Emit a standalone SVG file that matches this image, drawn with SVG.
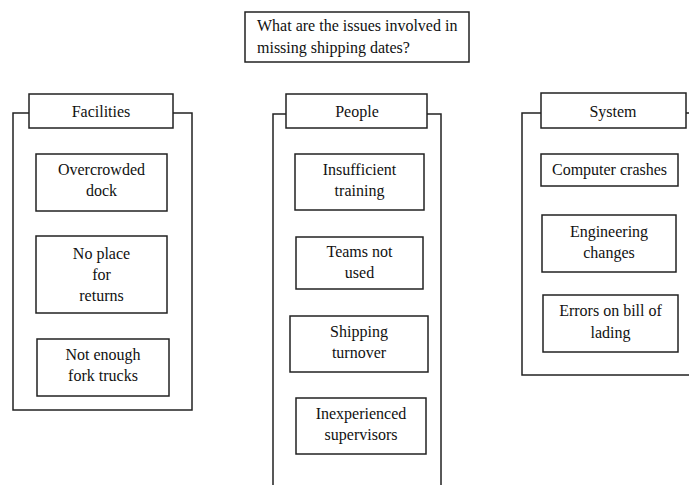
<svg xmlns="http://www.w3.org/2000/svg" width="689" height="485" viewBox="0 0 689 485">
<style>
.frame{fill:none;stroke:#222;stroke-width:1.5}
.box{fill:#fff;stroke:#222;stroke-width:1.5}
text{font-family:"Liberation Serif","Times New Roman",serif;font-size:16px;fill:#111}
.c{text-anchor:middle}
</style>
<rect width="689" height="485" fill="#fff"/>
<g id="connectors">
<rect class="frame" x="13" y="113" width="179" height="297"/>
<rect class="frame" x="273" y="114" width="168" height="400"/>
<rect class="frame" x="522" y="113" width="200" height="262"/>
</g>
<g id="question">
<rect class="box" x="245" y="12" width="224" height="50"/>
<text x="257" y="31">What are the issues involved in</text>
<text x="257" y="53">missing shipping dates?</text>
</g>
<g id="facilities">
<rect class="box" x="29" y="94" width="144" height="34"/>
<text class="c" x="101" y="117">Facilities</text>
</g>
<g id="overcrowded-dock">
<rect class="box" x="36" y="154" width="131" height="57"/>
<text class="c" x="101.5" y="175">Overcrowded</text>
<text class="c" x="101.5" y="196">dock</text>
</g>
<g id="no-place-returns">
<rect class="box" x="36" y="236" width="131" height="77"/>
<text class="c" x="101.5" y="259">No place</text>
<text class="c" x="101.5" y="280">for</text>
<text class="c" x="101.5" y="301">returns</text>
</g>
<g id="fork-trucks">
<rect class="box" x="37" y="339" width="132" height="57"/>
<text class="c" x="103" y="360">Not enough</text>
<text class="c" x="103" y="381">fork trucks</text>
</g>
<g id="people">
<rect class="box" x="286" y="94" width="141" height="34"/>
<text class="c" x="357" y="117">People</text>
</g>
<g id="insufficient-training">
<rect class="box" x="295" y="154" width="129" height="56"/>
<text class="c" x="359.5" y="175">Insufficient</text>
<text class="c" x="359.5" y="196">training</text>
</g>
<g id="teams-not-used">
<rect class="box" x="296" y="237" width="127" height="52"/>
<text class="c" x="359.5" y="257">Teams not</text>
<text class="c" x="359.5" y="278">used</text>
</g>
<g id="shipping-turnover">
<rect class="box" x="290" y="316" width="138" height="56"/>
<text class="c" x="359" y="337">Shipping</text>
<text class="c" x="359" y="358">turnover</text>
</g>
<g id="inexperienced-supervisors">
<rect class="box" x="296" y="398" width="130" height="56"/>
<text class="c" x="361" y="419">Inexperienced</text>
<text class="c" x="361" y="440">supervisors</text>
</g>
<g id="system">
<rect class="box" x="541" y="93" width="145" height="35"/>
<text class="c" x="613" y="117">System</text>
</g>
<g id="computer-crashes">
<rect class="box" x="541" y="154" width="137" height="32"/>
<text class="c" x="609.5" y="175">Computer crashes</text>
</g>
<g id="engineering-changes">
<rect class="box" x="542" y="215" width="134" height="57"/>
<text class="c" x="609" y="237">Engineering</text>
<text class="c" x="609" y="258">changes</text>
</g>
<g id="errors-bill-lading">
<rect class="box" x="543" y="295" width="135" height="57"/>
<text class="c" x="610.5" y="316">Errors on bill of</text>
<text class="c" x="610.5" y="338">lading</text>
</g>
</svg>
